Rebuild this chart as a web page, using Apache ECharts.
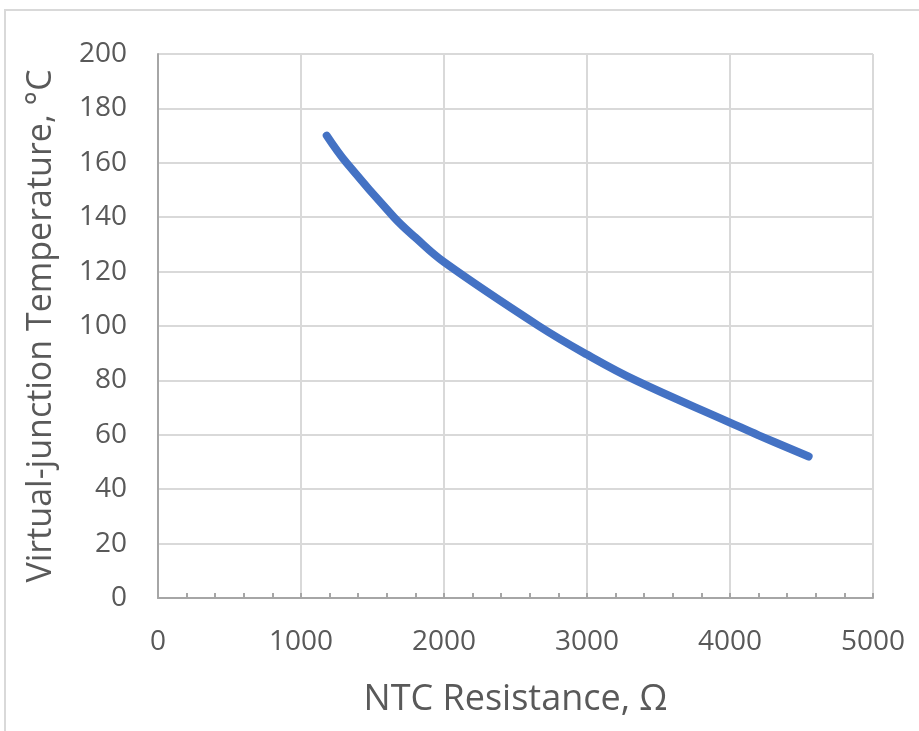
<!DOCTYPE html>
<html>
<head>
<meta charset="utf-8">
<script src="https://cdn.jsdelivr.net/npm/echarts@6/dist/echarts.min.js"></script>
<style>
html,body{margin:0;padding:0;background:#fff;overflow:hidden;}
#frame{position:absolute;left:4px;top:9px;width:2000px;height:2000px;border:2px solid #d9d9d9;box-sizing:border-box;}
#main{position:absolute;left:0;top:0;width:919px;height:731px;}
</style>
</head>
<body>
<div id="frame"></div>
<div id="main"></div>
<script>
// NTC resistance (Ω)
const resistance = [1180, 1318, 1650, 1800, 2000, 2663, 3000, 3341, 4000, 4200, 4550];
// Virtual-junction temperature (°C)
const temperature = [170, 160, 140, 132.5, 123.5, 100, 89.5, 80, 64.5, 59.8, 52];
const xTicks = [0, 1000, 2000, 3000, 4000, 5000];
const yTicks = [0, 20, 40, 60, 80, 100, 120, 140, 160, 180, 200];

const font = '"Open Sans", sans-serif';
const chart = echarts.init(document.getElementById('main'), null, {renderer: 'canvas'});
chart.setOption({
  backgroundColor: 'transparent',
  animation: false,
  grid: {left: 158, right: 46, top: 54, bottom: 133, containLabel: false},
  xAxis: {
    type: 'value',
    min: xTicks[0], max: xTicks[xTicks.length - 1], interval: 1000,
    name: 'NTC Resistance, Ω',
    nameLocation: 'middle', nameGap: 84,
    nameTextStyle: {fontFamily: font, fontSize: 36, color: '#595959'},
    axisLine: {show: true, onZero: false, lineStyle: {color: '#a6a6a6', width: 2}},
    axisTick: {show: true, inside: true, length: 5, lineStyle: {color: '#a6a6a6', width: 2}},
    minorTick: {show: true, splitNumber: 5, length: 5, lineStyle: {color: '#a6a6a6', width: 2}},
    splitLine: {show: true, lineStyle: {color: '#d9d9d9', width: 2}},
    axisLabel: {fontFamily: font, fontSize: 28, color: '#595959', margin: 30,
      formatter: v => String(v)}
  },
  yAxis: {
    type: 'value',
    min: yTicks[0], max: yTicks[yTicks.length - 1], interval: 20,
    name: 'Virtual-junction Temperature, °C',
    nameLocation: 'middle', nameGap: 100,
    nameTextStyle: {fontFamily: font, fontSize: 34, color: '#595959'},
    axisLine: {show: true, lineStyle: {color: '#a6a6a6', width: 2}},
    axisTick: {show: false},
    splitLine: {show: true, lineStyle: {color: '#d9d9d9', width: 2}},
    axisLabel: {fontFamily: font, fontSize: 28, color: '#595959', margin: 31,
      formatter: v => String(v)}
  },
  series: [{
    type: 'line',
    data: resistance.map((r, i) => [r, temperature[i]]),
    smooth: 0.4,
    showSymbol: false,
    lineStyle: {color: '#4472c4', width: 8, cap: 'round', join: 'round'},
    itemStyle: {color: '#4472c4'}
  }]
});
</script>
</body>
</html>
